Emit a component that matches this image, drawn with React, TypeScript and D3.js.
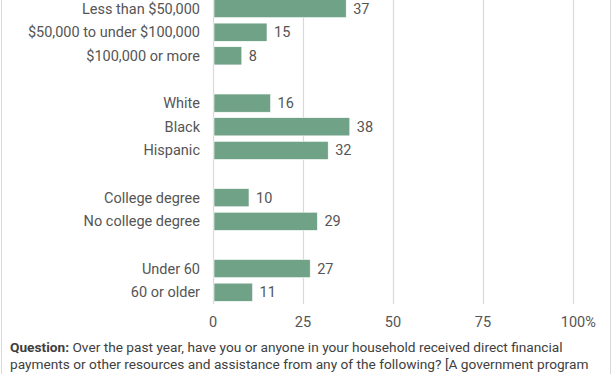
import React from "react";
import * as d3 from "d3";

const categories: string[] = [
  "Less than $50,000",
  "$50,000 to under $100,000",
  "$100,000 or more",
  "",
  "White",
  "Black",
  "Hispanic",
  " ",
  "College degree",
  "No college degree",
  "  ",
  "Under 60",
  "60 or older",
];
const values: (number | null)[] = [37, 15, 8, null, 16, 38, 32, null, 10, 29, null, 27, 11];
const ticks: number[] = [0, 25, 50, 75, 100];
const footerLines: { bold: string; rest: string }[] = [
  { bold: "Question:", rest: " Over the past year, have you or anyone in your household received direct financial" },
  { bold: "", rest: "payments or other resources and assistance from any of the following? [A government program" },
];

const W = 612;
const H = 374;
const FONT = "Roboto, 'Liberation Sans', sans-serif";
const FS = 14.5;
const FFS = 13.7;

export default function App() {
  const x = d3.scaleLinear().domain([0, 100]).range([213, 573]);
  const y = d3
    .scaleBand<string>()
    .domain(categories)
    .range([-3.26, -3.26 + 13 * 23.64])
    .paddingInner(0.23)
    .paddingOuter(0.115);
  const bw = y.bandwidth();
  const gridBottom = 304;

  return (
    <svg
      width={W}
      height={H}
      style={{ position: "fixed", left: 0, top: 0, background: "#fff" }}
      fontFamily={FONT}
    >
      <rect x={0} y={0} width={W} height={H} fill="#fff" />
      <line x1={1.5} x2={1.5} y1={0} y2={H} stroke="#d9d9d9" strokeWidth={1} />
      <line x1={610.5} x2={610.5} y1={0} y2={H} stroke="#d9d9d9" strokeWidth={1} />
      {ticks.map((t) => (
        <line
          key={"g" + t}
          x1={Math.round(x(t)) + 0.5}
          x2={Math.round(x(t)) + 0.5}
          y1={0}
          y2={gridBottom}
          stroke="#d9d9d9"
          strokeWidth={1.2}
        />
      ))}
      {categories.map((c, i) => {
        const v = values[i];
        if (v === null) return null;
        const yy = y(c)!;
        return (
          <g key={c}>
            <rect
              x={x(0) + 1}
              y={yy}
              width={x(v) - x(0) - 1}
              height={bw}
              fill="#6fa287"
              stroke="#ffffff"
              strokeWidth={0.6}
            />
            <text
              x={200}
              y={yy + bw / 2}
              dy="0.35em"
              textAnchor="end"
              fontSize={FS}
              fill="#555555"
            >
              {c}
            </text>
            <text x={x(v) + 7} y={yy + bw / 2} dy="0.35em" fontSize={FS} fill="#555555">
              {v}
            </text>
          </g>
        );
      })}
      {ticks.map((t, i) => (
        <text
          key={"t" + t}
          x={x(t)}
          y={322}
          dy="0.35em"
          textAnchor={i === ticks.length - 1 ? "start" : "middle"}
          dx={i === ticks.length - 1 ? -12.2 : 0}
          fontSize={FS}
          fill="#555555"
        >
          {t}
          {i === ticks.length - 1 ? "%" : ""}
        </text>
      ))}
      {footerLines.map((l, i) => (
        <text key={"f" + i} x={10} y={352 + i * 16.7} fontSize={FFS} fill="#404040">
          {l.bold ? <tspan fontWeight="bold">{l.bold}</tspan> : null}
          <tspan>{l.rest}</tspan>
        </text>
      ))}
    </svg>
  );
}
